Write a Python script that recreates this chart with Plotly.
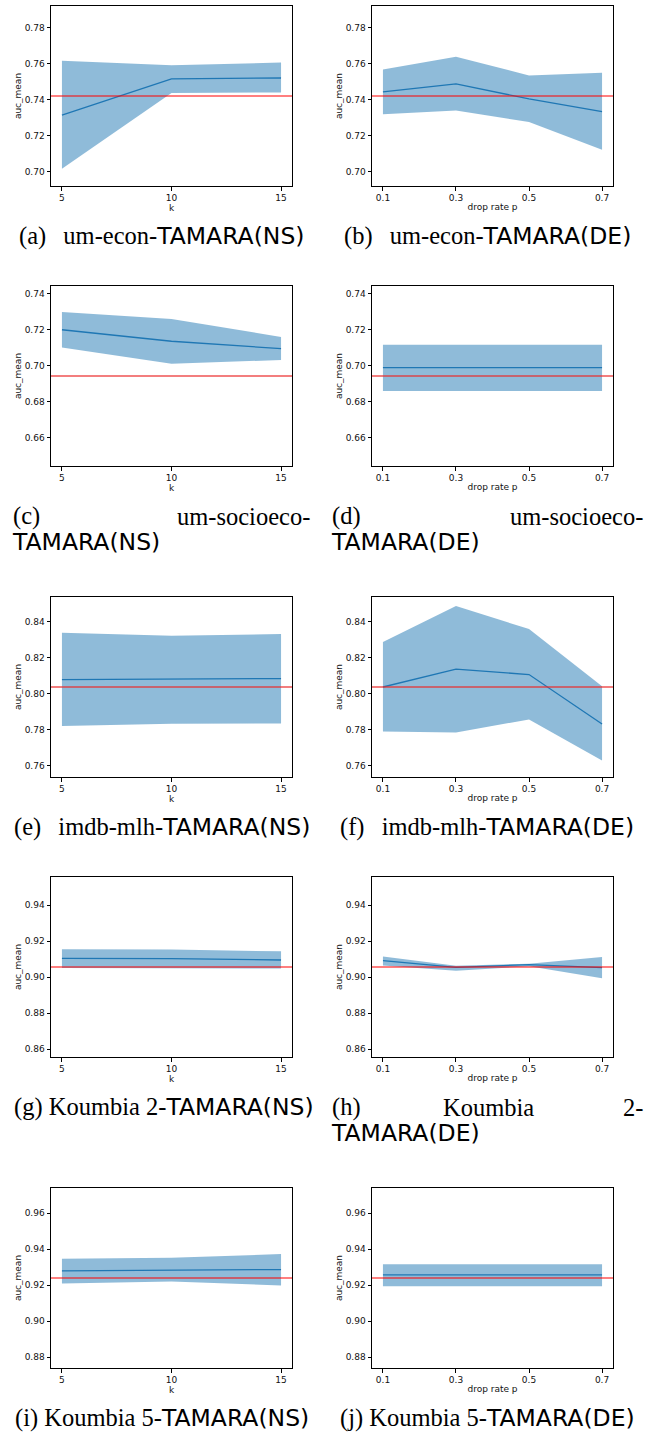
import plotly.graph_objects as go

# ---------------- data ----------------
k_values = [5, 10, 15]
p_values = [0.1, 0.3, 0.5, 0.7]
k_ticks = [5, 10, 15]
p_ticks = [0.1, 0.3, 0.5, 0.7]
p_ticklabels = ["0.1", "0.3", "0.5", "0.7"]

# um-econ
econ_baseline = 0.742
econ_ns_mean = [0.7314, 0.7515, 0.7520]
econ_ns_upper = [0.7616, 0.7591, 0.7606]
econ_ns_lower = [0.7016, 0.7437, 0.7440]
econ_de_mean = [0.7443, 0.7487, 0.7404, 0.7333]
econ_de_upper = [0.7567, 0.7638, 0.7534, 0.7549]
econ_de_lower = [0.7318, 0.7339, 0.7275, 0.7121]

# um-socioeco
socio_baseline = 0.6942
socio_ns_mean = [0.7199, 0.7135, 0.7094]
socio_ns_upper = [0.7297, 0.7258, 0.7159]
socio_ns_lower = [0.7101, 0.7010, 0.7031]
socio_de_mean = [0.6988, 0.6988, 0.6988, 0.6988]
socio_de_upper = [0.7116, 0.7116, 0.7116, 0.7116]
socio_de_lower = [0.6859, 0.6859, 0.6859, 0.6859]

# imdb-mlh
imdb_baseline = 0.8037
imdb_ns_mean = [0.8078, 0.8080, 0.8084]
imdb_ns_upper = [0.8339, 0.8322, 0.8331]
imdb_ns_lower = [0.7820, 0.7833, 0.7834]
imdb_de_mean = [0.8037, 0.8136, 0.8106, 0.7831]
imdb_de_upper = [0.8287, 0.8487, 0.8359, 0.8041]
imdb_de_lower = [0.7790, 0.7784, 0.7857, 0.7628]

# Koumbia 2
k2_baseline = 0.9056
k2_ns_mean = [0.9104, 0.9102, 0.9095]
k2_ns_upper = [0.9154, 0.9153, 0.9143]
k2_ns_lower = [0.9050, 0.9050, 0.9048]
k2_de_mean = [0.9091, 0.9054, 0.9069, 0.9052]
k2_de_upper = [0.9115, 0.9063, 0.9074, 0.9112]
k2_de_lower = [0.9065, 0.9035, 0.9060, 0.8993]

# Koumbia 5
k5_baseline = 0.9239
k5_ns_mean = [0.9279, 0.9284, 0.9286]
k5_ns_upper = [0.9346, 0.9351, 0.9372]
k5_ns_lower = [0.9209, 0.9219, 0.9198]
k5_de_mean = [0.9256, 0.9256, 0.9256, 0.9256]
k5_de_upper = [0.9316, 0.9316, 0.9316, 0.9316]
k5_de_lower = [0.9193, 0.9193, 0.9193, 0.9193]

baselines = [econ_baseline, socio_baseline, imdb_baseline, k2_baseline, k5_baseline]
ns_series = [
    (econ_ns_mean, econ_ns_upper, econ_ns_lower),
    (socio_ns_mean, socio_ns_upper, socio_ns_lower),
    (imdb_ns_mean, imdb_ns_upper, imdb_ns_lower),
    (k2_ns_mean, k2_ns_upper, k2_ns_lower),
    (k5_ns_mean, k5_ns_upper, k5_ns_lower),
]
de_series = [
    (econ_de_mean, econ_de_upper, econ_de_lower),
    (socio_de_mean, socio_de_upper, socio_de_lower),
    (imdb_de_mean, imdb_de_upper, imdb_de_lower),
    (k2_de_mean, k2_de_upper, k2_de_lower),
    (k5_de_mean, k5_de_upper, k5_de_lower),
]
y_ticks = [
    [0.70, 0.72, 0.74, 0.76, 0.78],
    [0.66, 0.68, 0.70, 0.72, 0.74],
    [0.76, 0.78, 0.80, 0.82, 0.84],
    [0.86, 0.88, 0.90, 0.92, 0.94],
    [0.88, 0.90, 0.92, 0.94, 0.96],
]
y_half_span = 0.05

# ---------------- layout ----------------
W, H = 645, 1440
col_px = [(51, 292), (372, 613)]
row_tops = [6, 286, 597, 877, 1188]
panel_h = 180

BLUE = "#1f77b4"
FILL = "rgba(31,119,180,0.5)"
SANS = "DejaVu Sans"
SERIF = "Liberation Serif"

fig = go.Figure()
layout_axes = {}
shapes = []

idx = 0
for r in range(5):
    for c in range(2):
        idx += 1
        xa = f"x{idx}" if idx > 1 else "x"
        ya = f"y{idx}" if idx > 1 else "y"
        xs = k_values if c == 0 else p_values
        mean, up, lo = (ns_series if c == 0 else de_series)[r]
        fig.add_trace(go.Scatter(x=xs, y=up, mode="lines", line=dict(width=0, color=FILL),
                                 showlegend=False, hoverinfo="skip", xaxis=xa, yaxis=ya))
        fig.add_trace(go.Scatter(x=xs, y=lo, mode="lines", line=dict(width=0, color=FILL),
                                 fill="tonexty", fillcolor=FILL,
                                 showlegend=False, hoverinfo="skip", xaxis=xa, yaxis=ya))
        fig.add_trace(go.Scatter(x=xs, y=mean, mode="lines", line=dict(width=1.3, color=BLUE),
                                 showlegend=False, xaxis=xa, yaxis=ya))
        b = baselines[r]
        if r in (1, 2):
            bl = dict(color="rgba(235,40,40,0.6)", width=2.2)
        else:
            bl = dict(color="#ff0000", width=1.2)
        shapes.append(dict(type="line", xref=f"{xa} domain", yref=ya, x0=0, x1=1, y0=b, y1=b,
                           line=bl, layer="above"))

        x0, x1 = col_px[c]
        top = row_tops[r]
        bot = top + panel_h
        key = "" if idx == 1 else str(idx)
        common = dict(showline=True, linecolor="black", linewidth=1, mirror=True,
                      ticks="outside", ticklen=3.5, tickwidth=0.8, tickcolor="black",
                      showgrid=False, zeroline=False,
                      tickfont=dict(family=SANS, size=9, color="#111"))
        if c == 0:
            xr = [4.5, 15.5]
            xaxis = dict(domain=[x0 / W, x1 / W], anchor=ya, range=xr, tickvals=k_ticks,
                         ticktext=[str(v) for v in k_ticks],
                         title=dict(text="k", font=dict(family=SANS, size=9, color="#111"), standoff=1),
                         **common)
        else:
            xr = [0.07, 0.73]
            xaxis = dict(domain=[x0 / W, x1 / W], anchor=ya, range=xr, tickvals=p_ticks,
                         ticktext=p_ticklabels,
                         title=dict(text="drop rate p", font=dict(family=SANS, size=9, color="#111"), standoff=1),
                         **common)
        yaxis = dict(domain=[1 - bot / H, 1 - top / H], anchor=xa,
                     range=[b - y_half_span, b + y_half_span],
                     tickvals=y_ticks[r], ticktext=[f"{v:.2f}" for v in y_ticks[r]],
                     title=dict(text="auc_mean", font=dict(family=SANS, size=9, color="#111"), standoff=1),
                     **common)
        layout_axes["xaxis" + key] = xaxis
        layout_axes["yaxis" + key] = yaxis

# ---------------- captions ----------------
CAP = 24.5
SANS_CAP = 23.5
def sans(t):
    return f'<span style="font-family:{SANS};font-size:{SANS_CAP}px">{t}</span>'

annotations = []
def ann(text, x, y, xanchor="center"):
    annotations.append(dict(text=text, x=x / W, y=1 - y / H, xref="paper", yref="paper",
                            xanchor=xanchor, yanchor="middle", showarrow=False,
                            font=dict(family=SERIF, size=CAP, color="black")))

Q = "\u2002\u2009"  # wider gap after the label, as in the LaTeX subcaptions
LC, RC = 161.5, 487
cap_off = 50
line2 = 26
# row 1
y = row_tops[0] + panel_h + cap_off
ann("(a)" + Q + "um-econ-" + sans("TAMARA(NS)"), LC, y)
ann("(b)" + Q + "um-econ-" + sans("TAMARA(DE)"), RC, y)
# row 2 (justified two-line captions)
y = row_tops[1] + panel_h + cap_off
ann("(c)", 11, y, "left")
ann("um-socioeco-", 312, y, "right")
ann(sans("TAMARA(NS)"), 10, y + line2, "left")
ann("(d)", 330, y, "left")
ann("um-socioeco-", 645, y, "right")
ann(sans("TAMARA(DE)"), 329, y + line2, "left")
# row 3
y = row_tops[2] + panel_h + cap_off
ann("(e)" + Q + "imdb-mlh-" + sans("TAMARA(NS)"), LC, y)
ann("(f)" + Q + "imdb-mlh-" + sans("TAMARA(DE)"), RC, y)
# row 4
y = row_tops[3] + panel_h + cap_off
ann("(g) Koumbia 2-" + sans("TAMARA(NS)"), 164, y)
ann("(h)", 330, y, "left")
ann("Koumbia", 488, y, "center")
ann("2-", 645, y, "right")
ann(sans("TAMARA(DE)"), 329, y + line2, "left")
# row 5
y = row_tops[4] + panel_h + cap_off
ann("(i) Koumbia 5-" + sans("TAMARA(NS)"), LC, y)
ann("(j) Koumbia 5-" + sans("TAMARA(DE)"), RC, y)

fig.update_layout(width=W, height=H, autosize=False,
                  margin=dict(l=0, r=0, t=0, b=0),
                  paper_bgcolor="white", plot_bgcolor="white",
                  shapes=shapes, annotations=annotations, **layout_axes)

fig.write_html("out.html",
               config={"displayModeBar": False},
               post_script="document.body.style.margin='0';document.body.style.padding='0';"
                           "document.body.style.overflow='hidden';")
